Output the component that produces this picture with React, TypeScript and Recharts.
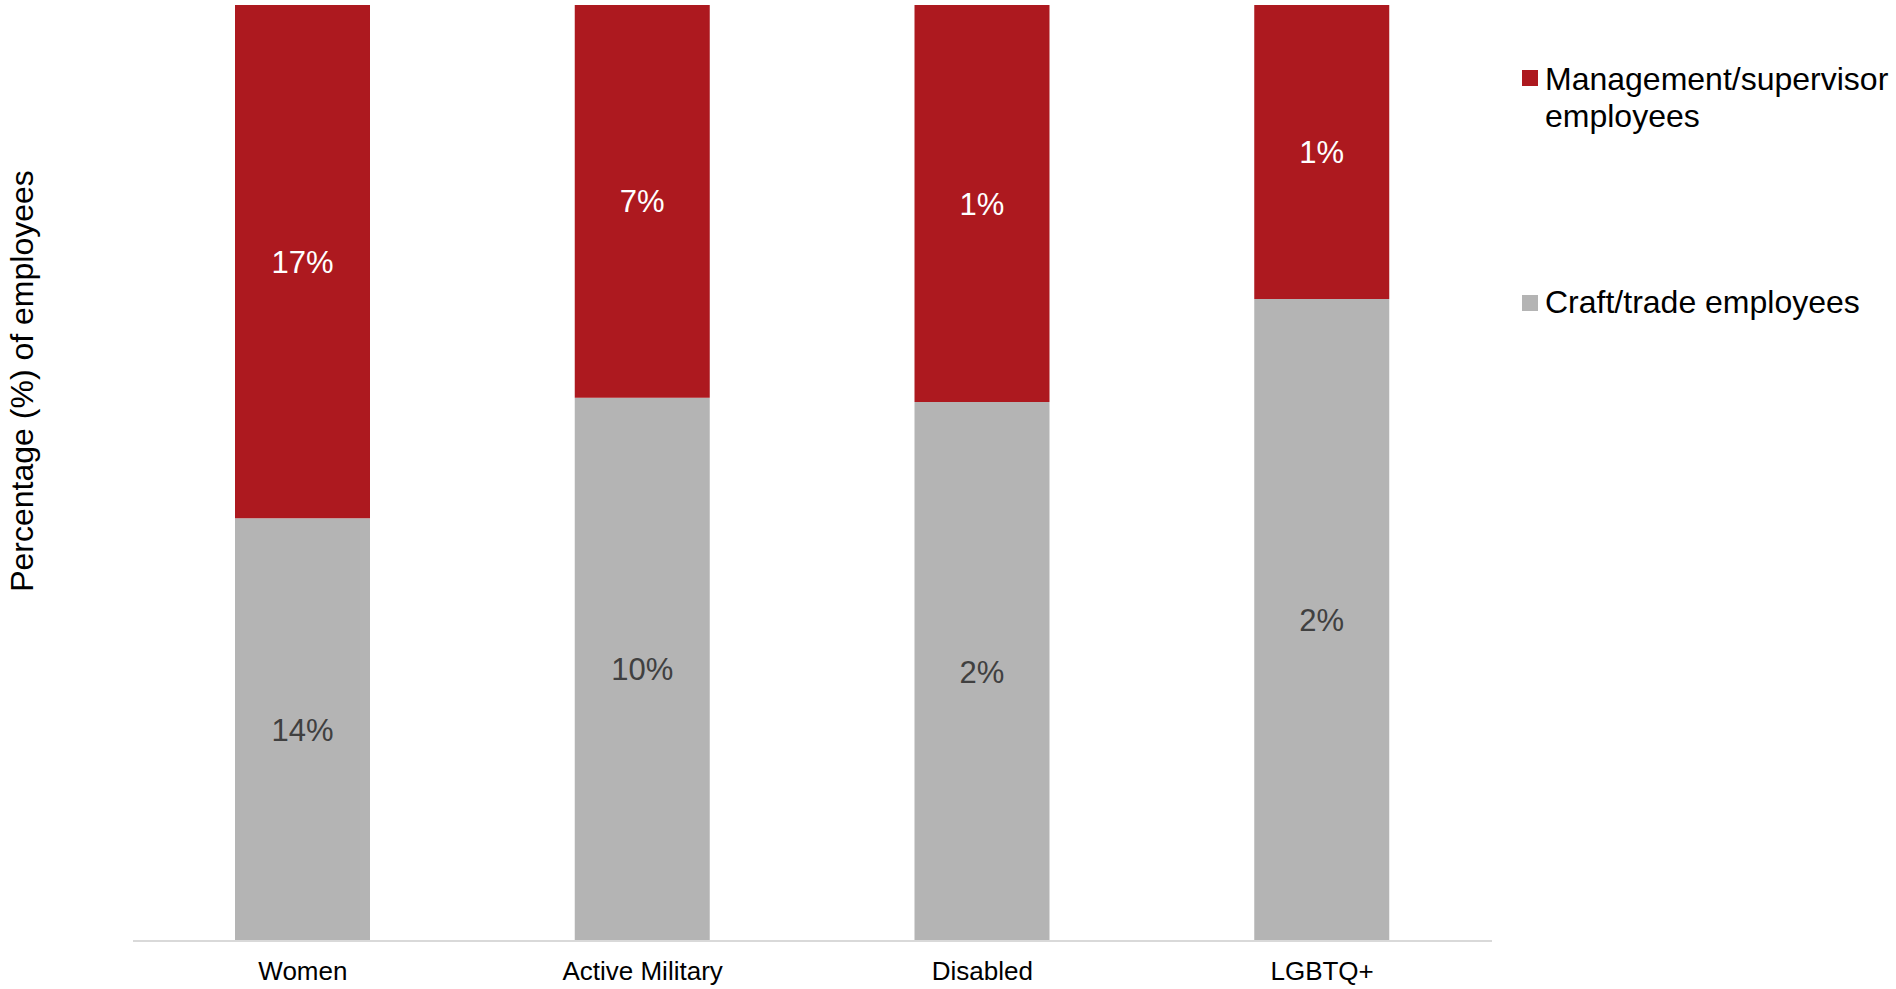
import React from "react";
import { BarChart, Bar, XAxis, YAxis, LabelList } from "recharts";

const categories = ["Women", "Active Military", "Disabled", "LGBTQ+"];
const craftValues = [14, 10, 1.9, 1.9];
const mgmtValues = [17, 7.23, 1.4, 0.87];

const RED = "#AD191F";
const GRAY = "#B4B4B4";
const FONT = "'Liberation Sans', Arial, sans-serif";

const data = categories.map((name, i) => {
  const total = craftValues[i] + mgmtValues[i];
  return {
    name,
    craft: (craftValues[i] / total) * 100,
    mgmt: (mgmtValues[i] / total) * 100,
    craftLabel: `${Math.round(craftValues[i])}%`,
    mgmtLabel: `${Math.round(mgmtValues[i])}%`,
  };
});

const legendItems = [
  { label: ["Management/supervisor", "employees"], color: RED, top: 61, boxTop: 70 },
  { label: ["Craft/trade employees"], color: GRAY, top: 284, boxTop: 295 },
];

export default function App() {
  return (
    <div style={{ position: "absolute", left: 0, top: 0, width: 1896, height: 989, background: "#fff" }}>
      <BarChart
        width={1896}
        height={989}
        data={data}
        margin={{ top: 5, right: 404, bottom: 0, left: 133 }}
        barCategoryGap={0}
      >
        <XAxis
          dataKey="name"
          height={48}
          axisLine={{ stroke: "#D9D9D9", strokeWidth: 2 }}
          tickLine={false}
          tickMargin={15}
          tick={{ fontSize: 26, fill: "#000", fontFamily: FONT }}
          interval={0}
        />
        <YAxis hide domain={[0, 100]} />
        <Bar dataKey="craft" stackId="a" fill={GRAY} barSize={135} isAnimationActive={false}>
          <LabelList dataKey="craftLabel" position="center" fill="#404040" fontSize={31} fontFamily={FONT} />
        </Bar>
        <Bar dataKey="mgmt" stackId="a" fill={RED} barSize={135} isAnimationActive={false}>
          <LabelList dataKey="mgmtLabel" position="center" fill="#FFFFFF" fontSize={31} fontFamily={FONT} />
        </Bar>
      </BarChart>
      {legendItems.map((it, i) => (
        <React.Fragment key={i}>
          <div
            style={{
              position: "absolute",
              left: 1522,
              top: it.boxTop,
              width: 16,
              height: 16,
              background: it.color,
            }}
          />
          <div
            style={{
              position: "absolute",
              left: 1545,
              top: it.top,
              fontFamily: FONT,
              fontSize: 32,
              lineHeight: "37px",
              color: "#000",
              whiteSpace: "nowrap",
            }}
          >
            {it.label.map((l, j) => (
              <div key={j}>{l}</div>
            ))}
          </div>
        </React.Fragment>
      ))}
      <div
        style={{
          position: "absolute",
          left: 22,
          top: 381,
          transform: "translate(-50%, -50%) rotate(-90deg)",
          fontFamily: FONT,
          fontSize: 32,
          whiteSpace: "nowrap",
          color: "#000",
        }}
      >
        Percentage (%) of employees
      </div>
    </div>
  );
}
